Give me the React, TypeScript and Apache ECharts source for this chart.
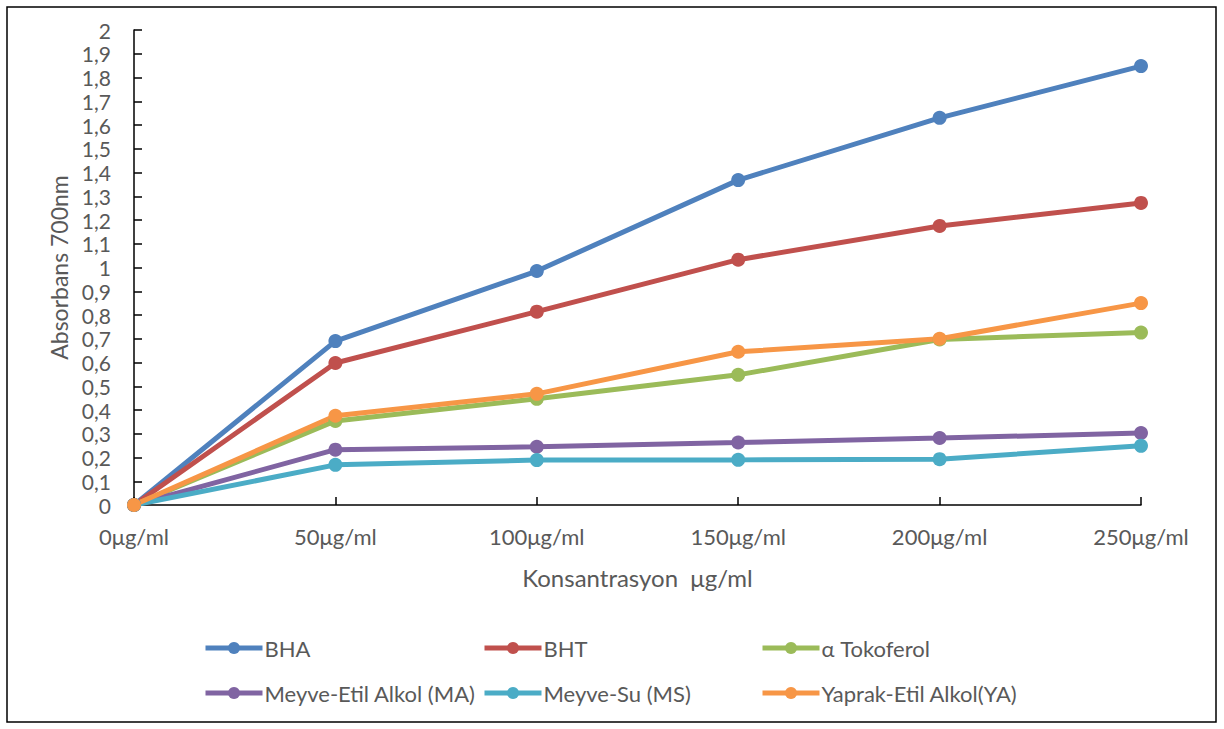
import React, { useEffect, useRef } from "react";
import * as echarts from "echarts";

// Concentrations on the x axis
const categories = ["0μg/ml", "50μg/ml", "100μg/ml", "150μg/ml", "200μg/ml", "250μg/ml"];

// Absorbance at 700 nm for each sample
const bha = [0, 0.69, 0.985, 1.368, 1.63, 1.848];
const bht = [0, 0.598, 0.814, 1.033, 1.175, 1.272];
const tokoferol = [0, 0.354, 0.447, 0.548, 0.697, 0.726];
const meyveEtil = [0, 0.233, 0.245, 0.263, 0.282, 0.303];
const meyveSu = [0, 0.169, 0.189, 0.19, 0.193, 0.249];
const yaprakEtil = [0, 0.376, 0.468, 0.645, 0.7, 0.85];

const seriesNames = [
  "BHA",
  "BHT",
  "α Tokoferol",
  "Meyve-Etil Alkol (MA)",
  "Meyve-Su (MS)",
  "Yaprak-Etil Alkol(YA)",
];
const seriesData = [bha, bht, tokoferol, meyveEtil, meyveSu, yaprakEtil];
const colors = ["#4F81BD", "#C0504D", "#9BBB59", "#8064A2", "#4BACC6", "#F79646"];

const FONT = "Lato, 'Open Sans', sans-serif";
const TEXT = "#595959";

export default function App() {
  const ref = useRef<HTMLDivElement>(null);

  useEffect(() => {
    if (!ref.current) return;
    const chart = echarts.init(ref.current, undefined, { renderer: "svg" });

    // legend laid out as a 3 x 2 grid
    const legendPos = [
      { left: 203, top: 637 },
      { left: 482, top: 637 },
      { left: 760, top: 637 },
      { left: 203, top: 682 },
      { left: 482, top: 682 },
      { left: 760, top: 682 },
    ];

    chart.setOption({
      animation: false,
      backgroundColor: "#fff",
      textStyle: { fontFamily: FONT },
      grid: { left: 134, right: 83, top: 30, bottom: 224, containLabel: false },
      graphic: [
        {
          type: "rect",
          shape: { x: 7, y: 7, width: 1209, height: 715 },
          style: { fill: "none", stroke: "#000", lineWidth: 1.5 },
          silent: true,
        },
      ],
      legend: seriesNames.map((name, i) => ({
        data: [name],
        left: legendPos[i].left,
        top: legendPos[i].top,
        itemWidth: 57,
        itemHeight: 15,
        itemGap: 0,
        padding: 0,
        lineStyle: { width: 5 },
        textStyle: { fontFamily: FONT, fontSize: 22, color: TEXT, padding: [0, 0, 0, -3] },
      })),
      xAxis: {
        type: "category",
        data: categories,
        boundaryGap: false,
        name: "Konsantrasyon  μg/ml",
        nameLocation: "middle",
        nameGap: 60,
        nameTextStyle: { fontFamily: FONT, fontSize: 24, color: TEXT },
        axisLine: { lineStyle: { color: "#000", width: 1.5 } },
        axisTick: { inside: true, length: 8, lineStyle: { color: "#000", width: 1.5 } },
        axisLabel: { margin: 20, fontFamily: FONT, fontSize: 22, color: TEXT },
        splitLine: { show: false },
      },
      yAxis: {
        type: "value",
        min: 0,
        max: 2,
        interval: 0.1,
        name: "Absorbans 700nm",
        nameLocation: "middle",
        nameGap: 62,
        nameRotate: 90,
        nameTextStyle: { fontFamily: FONT, fontSize: 23, color: TEXT },
        axisLine: { show: true, lineStyle: { color: "#000", width: 1.5 } },
        axisTick: { show: true, inside: true, length: 8, lineStyle: { color: "#000", width: 1.5 } },
        axisLabel: {
          margin: 23,
          fontFamily: FONT,
          fontSize: 21,
          lineHeight: 21,
          color: TEXT,
          formatter: (v: number) => String(Number(v.toFixed(1))).replace(".", ","),
        },
        splitLine: { show: false },
      },
      series: seriesNames.map((name, i) => ({
        name,
        type: "line",
        data: seriesData[i],
        symbol: "circle",
        symbolSize: 14,
        color: colors[i],
        lineStyle: { width: 5, color: colors[i] },
        itemStyle: { color: colors[i] },
      })),
    });

    return () => chart.dispose();
  }, []);

  return (
    <div
      ref={ref}
      style={{ position: "absolute", left: 0, top: 0, width: 1224, height: 729 }}
    />
  );
}
